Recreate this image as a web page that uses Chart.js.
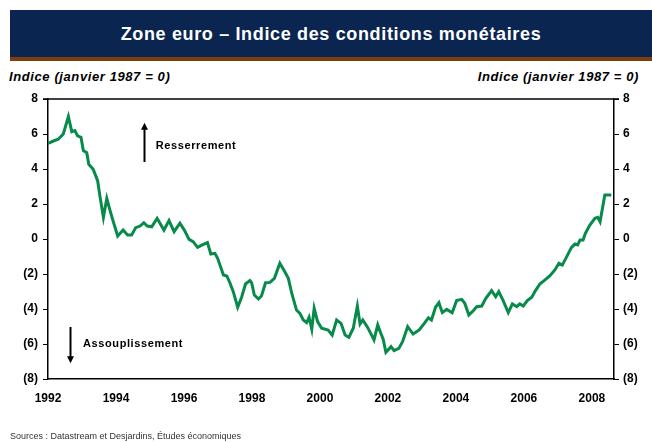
<!DOCTYPE html>
<html lang="fr">
<head>
<meta charset="utf-8">
<script src="https://cdn.jsdelivr.net/npm/chart.js@4"></script>
<style>
    body { margin: 0; width: 652px; height: 442px; position: relative; background: #fff; overflow: hidden;
           font-family: 'Liberation Sans', Arial, sans-serif; }
    #band { position: absolute; left: 10px; top: 10px; width: 642px; height: 47px; background: #0b2551; }
    #strip { position: absolute; left: 10px; top: 57px; width: 642px; height: 4px; background: #7c3e0e; }
    #title { position: absolute; left: 10px; top: 11px; width: 642px; height: 47px; line-height: 47px;
             text-align: center; color: #fff; font-weight: bold; font-size: 18px; letter-spacing: 0.65px; }
    .unit { position: absolute; top: 69px; font-size: 13px; font-weight: bold; font-style: italic; color: #000;
            letter-spacing: 0.6px; }
    #unit-left { left: 9px; }
    #unit-right { right: 13px; }
    #source { position: absolute; left: 10px; top: 431px; font-size: 9px; color: #333; }
    canvas { position: absolute; left: 0; top: 0; }
</style>
</head>
<body>
<div id="band"></div>
<div id="strip"></div>
<div id="title">Zone euro – Indice des conditions monétaires</div>
<div class="unit" id="unit-left">Indice (janvier 1987 = 0)</div>
<div class="unit" id="unit-right">Indice (janvier 1987 = 0)</div>
<canvas id="chart" width="652" height="442"></canvas>
<div id="source">Sources : Datastream et Desjardins, Études économiques</div>

<script>
// Data (dates in decimal years)
const DATES = [
    1992.0, 1992.16, 1992.3, 1992.45, 1992.6, 1992.7, 1992.79, 1992.87, 1992.97,
    1993.04, 1993.14, 1993.2, 1993.33, 1993.46, 1993.53, 1993.63, 1993.73, 1993.82, 1993.92,
    1994.05, 1994.21, 1994.34, 1994.46, 1994.58, 1994.71, 1994.82, 1994.92,
    1995.05, 1995.21, 1995.41, 1995.56, 1995.71, 1995.88,
    1996.01, 1996.15, 1996.27, 1996.4, 1996.54, 1996.69, 1996.79, 1996.91, 1996.99,
    1997.16, 1997.26, 1997.35, 1997.45, 1997.58, 1997.7, 1997.81, 1997.94, 1997.99,
    1998.07, 1998.19, 1998.28, 1998.4, 1998.53, 1998.66, 1998.82, 1998.95,
    1999.07, 1999.17, 1999.31, 1999.41, 1999.51, 1999.61, 1999.68, 1999.76, 1999.83, 1999.93,
    2000.05, 2000.24, 2000.36, 2000.49, 2000.62, 2000.74, 2000.85, 2000.98,
    2001.1, 2001.18, 2001.26, 2001.39, 2001.52, 2001.59, 2001.7, 2001.79, 2001.86, 2001.94,
    2002.09, 2002.18, 2002.32, 2002.43, 2002.58, 2002.74, 2002.92,
    2003.07, 2003.19, 2003.28, 2003.4, 2003.5, 2003.6, 2003.73, 2003.89,
    2004.02, 2004.17, 2004.26, 2004.38, 2004.51, 2004.61, 2004.76, 2004.88,
    2005.05, 2005.17, 2005.26, 2005.39, 2005.54, 2005.66, 2005.79, 2005.88, 2005.98,
    2006.1, 2006.23, 2006.34, 2006.47, 2006.62, 2006.76, 2006.91,
    2007.03, 2007.13, 2007.26, 2007.4, 2007.5, 2007.58, 2007.65, 2007.74, 2007.81, 2007.94,
    2008.09, 2008.17, 2008.24, 2008.38, 2008.46, 2008.57
];

const ICM_VALUES = [
    5.47, 5.6, 5.7, 6.0, 7.0, 6.13, 6.19, 5.89, 5.81,
    5.05, 4.93, 4.27, 3.98, 3.33, 2.42, 1.24, 2.32, 1.66, 0.99,
    0.17, 0.51, 0.23, 0.23, 0.65, 0.74, 0.93, 0.74,
    0.70, 1.18, 0.51, 1.05, 0.42, 0.90,
    0.51, -0.02, -0.15, -0.48, -0.34, -0.21, -0.86, -0.82, -1.1,
    -2.06, -2.11, -2.5, -3.01, -3.9, -3.3, -2.57, -2.38, -2.5,
    -3.2, -3.43, -3.26, -2.5, -2.48, -2.25, -1.39, -1.81,
    -2.25, -3.1, -4.06, -4.25, -4.63, -4.78, -4.47, -5.16, -3.96, -4.72,
    -5.1, -5.2, -5.49, -4.63, -4.82, -5.49, -5.62, -5.1,
    -3.83, -4.86, -4.63, -5.01, -5.49, -5.77, -4.91, -5.39, -5.73, -6.47,
    -6.15, -6.38, -6.25, -5.87, -5.01, -5.43, -5.2,
    -4.82, -4.5, -4.63, -3.9, -3.64, -4.21, -4.02, -4.21,
    -3.52, -3.45, -3.67, -4.34, -4.1, -3.87, -3.83, -3.39,
    -2.95, -3.3, -3.01, -3.52, -4.21, -3.71, -3.87, -3.71, -3.83,
    -3.52, -3.33, -2.95, -2.57, -2.34, -2.11, -1.77,
    -1.39, -1.49, -1.01, -0.48, -0.29, -0.34, -0.06, -0.06, 0.33, 0.8,
    1.18, 1.24, 0.99, 2.51, 2.51, 2.51
];

const YEAR_TICKS = [1992, 1994, 1996, 1998, 2000, 2002, 2004, 2006, 2008];
const Y_TICKS = [-8, -6, -4, -2, 0, 2, 4, 6, 8];

// Helpers
const FONT = "'Liberation Sans', Arial, sans-serif";
const tickFont = { family: FONT, size: 12, weight: 'bold' };

function fmtIndex(v) {
    return v < 0 ? `(${Math.abs(v)})` : `${v}`;
}

function yAxis(position, width) {
    return {
        type: 'linear',
        position: position,
        min: -8,
        max: 8,
        afterBuildTicks: scale => { scale.ticks = Y_TICKS.map(v => ({ value: v })); },
        afterFit: scale => { scale.width = width; },
        grid: { drawOnChartArea: false, drawTicks: true, tickLength: 5, color: '#000', lineWidth: 1 },
        border: { display: true, color: '#000', width: 1.5 },
        ticks: {
            color: '#000',
            font: tickFont,
            padding: position === 'left' ? 5 : 4,
            callback: v => fmtIndex(v)
        }
    };
}

// Top frame line + annotation arrows
const framePlugin = {
    id: 'frame',
    afterDraw(chart) {
        const { ctx, chartArea: a, scales } = chart;
        const x = scales.x, y = scales.y;
        ctx.save();
        ctx.strokeStyle = '#000';
        ctx.lineWidth = 1.5;
        ctx.beginPath();
        ctx.moveTo(a.left - 5, a.top);
        ctx.lineTo(a.right + 5, a.top);
        ctx.stroke();

        const arrow = (xv, yFrom, yTo) => {
            const px = Math.round(x.getPixelForValue(xv)) + 0.5;
            const p0 = y.getPixelForValue(yFrom);
            const p1 = y.getPixelForValue(yTo);
            const dir = p1 < p0 ? -1 : 1;
            ctx.fillStyle = '#000';
            ctx.lineWidth = 2;
            ctx.beginPath();
            ctx.moveTo(px, p0);
            ctx.lineTo(px, p1 - dir * 5);
            ctx.stroke();
            ctx.beginPath();
            ctx.moveTo(px, p1);
            ctx.lineTo(px - 3.5, p1 - dir * 7);
            ctx.lineTo(px + 3.5, p1 - dir * 7);
            ctx.closePath();
            ctx.fill();
        };
        arrow(1994.82, 4.4, 6.65);
        arrow(1992.65, -5.03, -7.1);

        ctx.font = `bold 11px ${FONT}`;
        ctx.letterSpacing = '0.6px';
        ctx.textBaseline = 'middle';
        ctx.textAlign = 'left';
        ctx.fillText('Resserrement', x.getPixelForValue(1995.17), y.getPixelForValue(5.3));
        ctx.fillText('Assouplissement', x.getPixelForValue(1993.03), y.getPixelForValue(-5.97));
        ctx.restore();
    }
};

const points = DATES.map((d, i) => ({ x: d, y: ICM_VALUES[i] }));

new Chart(document.getElementById('chart').getContext('2d'), {
    type: 'line',
    data: {
        datasets: [{
            label: 'Indice des conditions monétaires',
            data: points,
            borderColor: '#078a4a',
            borderWidth: 3,
            pointRadius: 0,
            tension: 0,
            yAxisID: 'y'
        }, {
            // invisible twin so the right axis is drawn
            data: [],
            yAxisID: 'y2'
        }]
    },
    options: {
        responsive: false,
        animation: false,
        devicePixelRatio: 1,
        layout: { padding: { top: 99, left: 0, right: 0, bottom: 0 } },
        plugins: {
            legend: { display: false },
            tooltip: { enabled: false }
        },
        scales: {
            x: {
                type: 'linear',
                min: 1992,
                max: 2008.65,
                afterBuildTicks: scale => { scale.ticks = YEAR_TICKS.map(v => ({ value: v })); },
                afterFit: scale => { scale.height = 63; },
                grid: { display: false, drawTicks: false },
                border: { display: true, color: '#000', width: 1.5 },
                ticks: {
                    color: '#000',
                    font: tickFont,
                    padding: 12,
                    maxRotation: 0,
                    callback: v => `${v}`
                }
            },
            y: yAxis('left', 48),
            y2: yAxis('right', 38)
        }
    },
    plugins: [framePlugin]
});
</script>
</body>
</html>
